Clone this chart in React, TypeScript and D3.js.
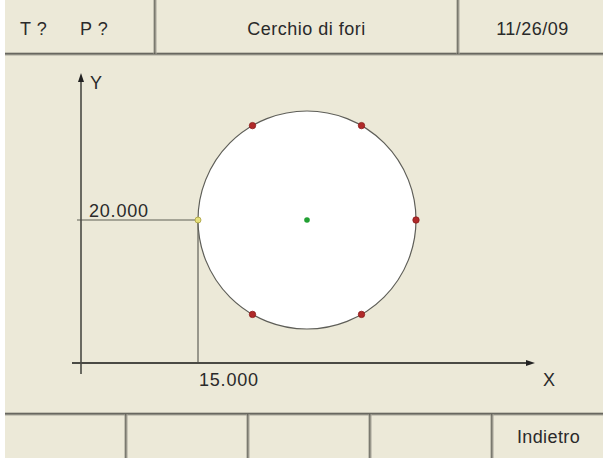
import React from "react";
import * as d3 from "d3";

const headerLabels = ["T ?", "P ?", "Cerchio di fori", "11/26/09"];
const footerLabels = ["", "", "", "", "Indietro"];
const startPoint = { x: 15.0, y: 20.0 };
const holeCount = 6;
const radiusValue = 14;
const startAngleDeg = 180;
const axisLabels = ["X", "Y"];

const W = 603;
const H = 458;
const BG = "#ECE9D8";

export default function App() {
  const k = 109 / radiusValue;
  const xScale = d3.scaleLinear().domain([startPoint.x, startPoint.x + radiusValue]).range([198, 198 + radiusValue * k]);
  const yScale = d3.scaleLinear().domain([startPoint.y, startPoint.y + radiusValue]).range([220, 220 - radiusValue * k]);
  const cx = startPoint.x + radiusValue;
  const cy = startPoint.y;
  const holes = d3.range(holeCount).map((i) => {
    const a = ((startAngleDeg + (i * 360) / holeCount) * Math.PI) / 180;
    return { x: cx + radiusValue * Math.cos(a), y: cy + radiusValue * Math.sin(a), start: i === 0 };
  });
  const axX = 81;
  const axY = 363;
  const font = "'Liberation Sans', Arial, sans-serif";
  const footerX = [5, 126, 248, 370, 492, 603];
  const headerX = [5, 155, 458, 603];
  const divider = (x: number, y1: number, y2: number, key: string) => (
    <g key={key}>
      <line x1={x - 1} x2={x - 1} y1={y1} y2={y2} stroke="#9a988c" strokeWidth={1} />
      <line x1={x} x2={x} y1={y1} y2={y2} stroke="#4a4a44" strokeWidth={1.2} />
      <line x1={x + 1} x2={x + 1} y1={y1} y2={y2} stroke="#a8a69a" strokeWidth={1} />
    </g>
  );
  const hline = (y: number, key: string) => (
    <g key={key}>
      <line x1={5} x2={W} y1={y - 1} y2={y - 1} stroke="#9a988c" strokeWidth={1} />
      <line x1={5} x2={W} y1={y} y2={y} stroke="#4a4a44" strokeWidth={1.3} />
      <line x1={5} x2={W} y1={y + 1} y2={y + 1} stroke="#a8a69a" strokeWidth={1} />
    </g>
  );
  return (
    <svg width={W} height={H} style={{ position: "absolute", left: 0, top: 0, display: "block" }}>
      <rect x={0} y={0} width={W} height={H} fill="#ffffff" />
      <rect x={5} y={0} width={W - 5} height={H} fill={BG} />
      {/* header */}
      {hline(54, "hh")}
      {divider(headerX[1], 0, 54, "hd1")}
      {divider(headerX[2], 0, 54, "hd2")}
      <g fontFamily={font} fontSize={18} fill="#2a2a2a" letterSpacing={0.5}>
        <text x={20} y={35}>{headerLabels[0]}</text>
        <text x={80} y={35}>{headerLabels[1]}</text>
        <text x={(headerX[1] + headerX[2]) / 2} y={35} textAnchor="middle">{headerLabels[2]}</text>
        <text x={(headerX[2] + headerX[3]) / 2 + 2} y={35} textAnchor="middle">{headerLabels[3]}</text>
      </g>
      {/* footer */}
      {hline(414, "fh")}
      {footerX.slice(1, -1).map((x, i) => divider(x, 414, H, "fd" + i))}
      <g fontFamily={font} fontSize={18} fill="#2a2a2a" letterSpacing={0.4}>
        {footerLabels.map((t, i) => (
          <text key={i} x={(footerX[i] + footerX[i + 1]) / 2 + 1} y={443} textAnchor="middle">{t}</text>
        ))}
      </g>
      {/* reference lines */}
      <line x1={77} x2={xScale(startPoint.x)} y1={yScale(startPoint.y)} y2={yScale(startPoint.y)} stroke="#8e8c80" strokeWidth={1.6} />
      <line x1={xScale(startPoint.x)} x2={xScale(startPoint.x)} y1={yScale(startPoint.y)} y2={axY} stroke="#44443e" strokeWidth={1} />
      {/* axes */}
      <line x1={axX} x2={axX} y1={80} y2={374} stroke="#4a4a44" strokeWidth={1.6} />
      <path d={`M${axX},73 L${axX - 3},82 L${axX + 3},82 Z`} fill="#222" />
      <line x1={72} x2={528} y1={axY} y2={axY} stroke="#4a4a44" strokeWidth={1.8} />
      <path d={`M535,${axY} L526,${axY - 3} L526,${axY + 3} Z`} fill="#222" />
      <g fontFamily={font} fill="#2a2a2a" fontSize={18} letterSpacing={0.8}>
        <text x={90} y={89}>{axisLabels[1]}</text>
        <text x={543} y={386}>{axisLabels[0]}</text>
        <text x={89} y={217}>{startPoint.y.toFixed(3)}</text>
        <text x={199} y={386}>{startPoint.x.toFixed(3)}</text>
      </g>
      {/* circle */}
      <circle cx={xScale(cx)} cy={yScale(cy)} r={radiusValue * k} fill="#ffffff" stroke="#5e5e58" strokeWidth={1.2} />
      <circle cx={xScale(cx)} cy={yScale(cy)} r={2.8} fill="#22a033" />
      {holes.map((h, i) => (
        <circle
          key={i}
          cx={xScale(h.x)}
          cy={yScale(h.y)}
          r={h.start ? 3 : 3.2}
          fill={h.start ? "#e6e07a" : "#b02a2a"}
          stroke={h.start ? "#a8a040" : "#8a1a1a"}
          strokeWidth={0.8}
        />
      ))}
    </svg>
  );
}
